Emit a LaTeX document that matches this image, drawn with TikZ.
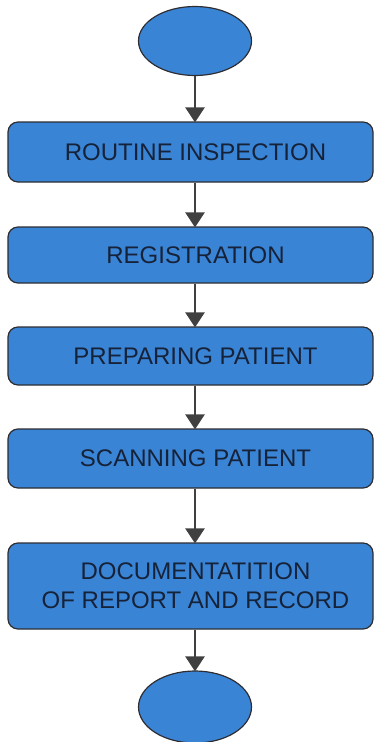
\documentclass[tikz,border=0pt]{standalone}
\usepackage{fontspec}
\setmainfont{Liberation Sans}
\usetikzlibrary{shapes.geometric,arrows.meta}
\definecolor{boxblue}{RGB}{58,132,214}
\definecolor{edgegray}{RGB}{45,45,50}
\definecolor{arrgray}{RGB}{64,64,64}
\definecolor{txtcol}{RGB}{22,34,56}
\newcommand{\tsh}{\hspace*{10pt}}
\tikzset{
  term/.style={ellipse, draw=edgegray, line width=1.2pt, fill=boxblue, minimum width=113pt, minimum height=69pt, inner sep=0pt},
  stepbox/.style={rectangle, rounded corners=10pt, draw=edgegray, line width=1.2pt, fill=boxblue, minimum width=365pt, text=txtcol, font=\fontsize{24}{29}\selectfont, align=center, inner sep=0pt},
  flow/.style={draw=arrgray, line width=2.6pt, -{Triangle[width=19pt,length=15pt]}, shorten >=-1pt}
}
\begin{document}
\begin{tikzpicture}[x=1pt,y=-1pt]
\useasboundingbox (0,0) rectangle (375,742);
\node[term] (start) at (195,41) {};
\node[stepbox, minimum height=60pt] (b1) at (190.5,152) {\tsh ROUTINE INSPECTION};
\node[stepbox, minimum height=56pt] (b2) at (190.5,255) {\tsh REGISTRATION};
\node[stepbox, minimum height=58pt] (b3) at (190.5,356) {\tsh PREPARING PATIENT};
\node[stepbox, minimum height=59pt] (b4) at (190.5,458.5) {\tsh SCANNING PATIENT};
\node[stepbox, minimum height=86pt] (b5) at (190.5,586) {\tsh DOCUMENTATITION\\\tsh OF REPORT AND RECORD};
\node[term, minimum height=72pt] (end) at (195,707) {};
\draw[flow] (start.south) -- (start.south |- b1.north);
\draw[flow] (b1.south -| start.south) -- (start.south |- b2.north);
\draw[flow] (b2.south -| start.south) -- (start.south |- b3.north);
\draw[flow] (b3.south -| start.south) -- (start.south |- b4.north);
\draw[flow] (b4.south -| start.south) -- (start.south |- b5.north);
\draw[flow] (b5.south -| start.south) -- (end.north);
\end{tikzpicture}
\end{document}
